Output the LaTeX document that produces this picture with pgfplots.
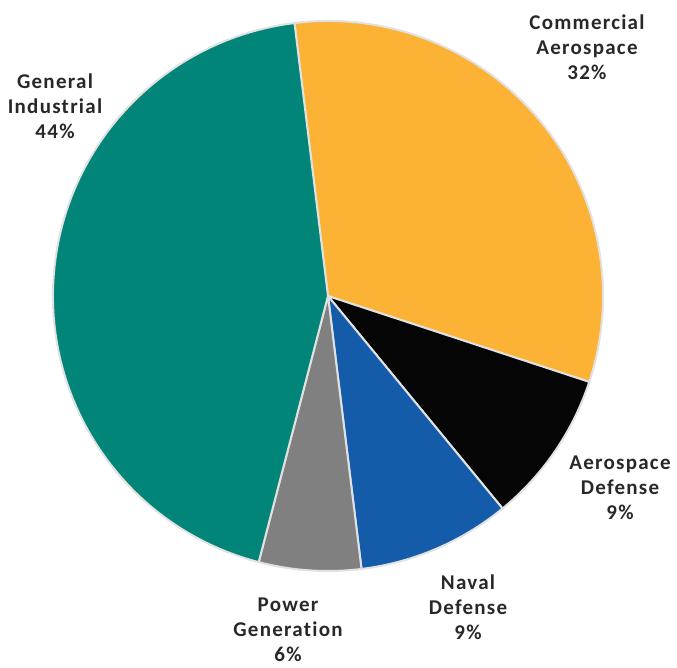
\documentclass[border=0pt]{standalone}
\usepackage{pgfplots}
\pgfplotsset{compat=1.18}
\usepackage{fontspec}
\setmainfont{Carlito}
\newfontfamily\labfont[LetterSpace=6,Ligatures=NoCommon]{Carlito}
\definecolor{cteal}{RGB}{0,133,120}
\definecolor{corange}{RGB}{252,178,52}
\definecolor{cblack}{RGB}{5,5,5}
\definecolor{cblue}{RGB}{20,92,170}
\definecolor{cgray}{RGB}{128,128,128}
\definecolor{ctext}{RGB}{40,40,40}
\definecolor{cedge}{RGB}{225,225,225}
% shares (percent), clockwise from the top
\def\vA{32}% Commercial Aerospace
\def\vB{9}%  Aerospace Defense
\def\vC{9}%  Naval Defense
\def\vD{6}%  Power Generation
\def\vE{44}% General Industrial
\def\startang{97}
\pgfmathsetmacro\aA{\startang}
\pgfmathsetmacro\aB{\aA-3.6*\vA}
\pgfmathsetmacro\aC{\aB-3.6*\vB}
\pgfmathsetmacro\aD{\aC-3.6*\vC}
\pgfmathsetmacro\aE{\aD-3.6*\vD}
\pgfmathsetmacro\aF{\aE-3.6*\vE}
\def\R{137.5pt}
\begin{document}
\begin{tikzpicture}
\begin{axis}[
  width=338.5pt, height=334pt, scale only axis,
  xmin=0, xmax=677, ymin=0, ymax=668, y dir=reverse,
  hide axis, clip=false,
]
\addplot[draw=none] coordinates {(0,0) (677,668)};
\newcommand\slice[3]{%
  \fill[#1, draw=cedge, line width=1pt, line join=round]
    (axis cs:328,296) -- ++(#2:\R) arc[start angle=#2, end angle=#3, radius=\R] -- cycle;}
\slice{corange}{\aA}{\aB}
\slice{cblack}{\aB}{\aC}
\slice{cblue}{\aC}{\aD}
\slice{cgray}{\aD}{\aE}
\slice{cteal}{\aE}{\aF}
\tikzset{lab/.style={font=\labfont\fontsize{10.5}{12.5}\selectfont\bfseries, text=ctext, align=center, inner sep=0pt}}
\node[lab] at (axis cs:587,47) {Commercial\\Aerospace\\32\%};
\node[lab] at (axis cs:620,488) {Aerospace\\Defense\\9\%};
\node[lab] at (axis cs:468,607) {Naval\\Defense\\9\%};
\node[lab] at (axis cs:288,630) {Power\\Generation\\6\%};
\node[lab] at (axis cs:55,106) {General\\Industrial\\44\%};
\end{axis}
\end{tikzpicture}
\end{document}
